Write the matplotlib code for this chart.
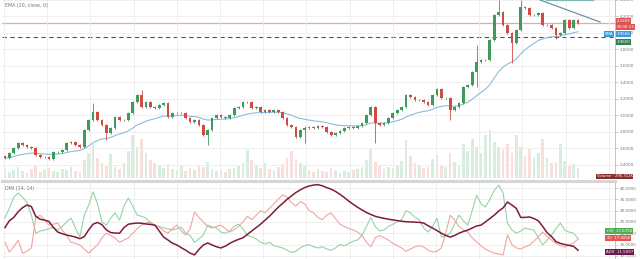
import matplotlib
matplotlib.use("Agg")
import matplotlib.pyplot as plt
import numpy as np
import pandas as pd

# candle closes (open = previous close)
closes = [2.485, 2.546, 2.606, 2.667, 2.642, 2.618, 2.606, 2.521, 2.497, 2.497,
          2.473, 2.558, 2.558, 2.582, 2.667, 2.679, 2.642, 2.618, 2.824, 2.945,
          3.042, 2.945, 2.885, 2.788, 2.849, 2.982, 2.945, 2.945, 3.030, 3.164,
          3.249, 3.103, 3.164, 3.103, 3.091, 3.127, 3.152, 2.982, 3.030, 3.030,
          3.030, 2.970, 2.921, 2.945, 2.885, 2.764, 2.824, 2.970, 3.006, 2.982,
          2.970, 3.006, 3.091, 3.103, 3.164, 3.164, 3.091, 3.103, 3.042, 3.067,
          3.042, 3.067, 3.042, 2.970, 2.885, 2.861, 2.740, 2.824, 2.849, 2.861,
          2.849, 2.873, 2.861, 2.800, 2.764, 2.788, 2.812, 2.849, 2.861, 2.849,
          2.873, 2.909, 3.006, 3.103, 2.909, 2.885, 2.909, 2.970, 3.030, 3.067,
          3.103, 3.249, 3.224, 3.188, 3.188, 3.164, 3.127, 3.249, 3.321, 3.212,
          3.212, 3.067, 3.103, 3.152, 3.345, 3.370, 3.527, 3.649, 3.673, 3.673,
          3.915, 4.218, 4.255, 4.097, 4.000, 3.879, 4.036, 4.315, 4.303, 4.218,
          4.218, 4.242, 4.097, 4.097, 4.061, 3.976, 4.000, 4.158, 4.061, 4.158,
          4.121]
first_open = 2.50
# candles with long wicks: index -> (high, low)
long_wicks = {20: (3.15, 2.93), 23: (2.90, 2.70), 31: (3.31, 3.09), 46: (2.84, 2.64),
              68: (2.87, 2.67), 84: (3.11, 2.67), 101: (3.22, 2.95), 107: (3.85, 3.35),
              112: (4.40, 4.20), 115: (4.01, 3.64), 117: (4.40, 4.02), 125: (4.07, 3.93)}

# volume in K
volumes = [90, 60, 80, 110, 70, 50, 90, 120, 60, 80, 100, 70, 60, 90, 80, 110, 70, 60,
           180, 250, 330, 200, 150, 120, 240,
           110, 90, 150, 260, 420, 300, 380, 250, 180, 150, 120, 100,
           140, 90, 80, 120, 70, 100, 80, 130, 110, 160, 90, 70, 80, 60, 90, 100,
           120, 150, 270, 180, 130, 100, 150, 90,
           80, 110, 140, 200, 260, 190, 150,
           120, 80, 60, 90, 70, 60, 100, 80, 50, 70, 60, 80, 90,
           110, 180, 280, 160, 120, 90, 110, 100, 130, 170,
           370, 220, 150, 120, 100, 110, 190, 230, 130, 110, 250, 160, 120,
           330, 260, 380, 300, 250, 420, 470,
           350, 300, 280, 330, 250, 420, 300, 220, 280, 200, 250,
           380, 200, 150, 160, 330, 170, 120, 140, 100]

adx = [22.5, 25.5, 27, 29.5, 31.3, 32.5, 31.8, 27.5, 26.2, 25.8, 25.2, 22.5, 20.5, 19.8,
       19.2, 18.8, 18.3, 17.6, 18.5, 21.5, 24, 24.8, 23.8, 21.5, 20.3, 20.1, 20, 22.5,
       24, 24.3, 24.5, 24.4, 24.1, 23.9, 23.6, 21, 18.3, 17, 15.6, 14.8, 13.6, 12.5,
       11.2, 10.4, 12.8, 14.8, 15.7, 14.8, 14, 13.5, 14.3, 15.5, 16.5, 17.3, 18, 19.5,
       21, 22.5, 24, 25.8, 27.5, 29.5, 31.5, 33.2, 35, 36.5, 38, 39.2, 40.2, 40.9,
       41.3, 41.5, 41, 40.2, 39.5, 38.5, 37.2, 35.8, 34.2, 32.8, 31.5, 30.3, 29.2,
       28.3, 27.5, 27, 26.6, 26.2, 25.9, 25.6, 25.3, 25.1, 25, 24.9, 24.8, 24.5, 23.3,
       22.3, 21.2, 20, 19, 18.3, 19, 20, 20.8, 21.4, 22.3, 23.2, 23.6, 25, 26.5, 28,
       29.8, 31.2, 33.8, 32.5, 31, 27, 27, 27.2, 26.5, 25.5, 23, 20.2, 18.5, 16.3,
       15.5, 15, 14.6, 14.2, 12.5]
plus_di = [26.7, 31, 36, 37.8, 36, 33.7, 28, 20, 21, 21.4, 22, 22.7, 21.4, 23, 25, 26.7,
           22.3, 18.3, 28, 32.5, 38.3, 33, 25, 23.6, 26.7, 29, 25.8, 32, 35.6, 32, 28,
           27.5, 26.7, 24.5, 23.6, 23, 22.3, 22, 21.4, 22, 22.7, 20, 19, 16, 17.5, 19.2,
           23.6, 22.8, 22.3, 20.5, 20, 21, 23, 24, 22, 19, 18.5, 17.5, 16, 15.2, 16,
           14.5, 14, 13.5, 12.5, 11.5, 12, 13.5, 14.5, 15, 14, 13.5, 14, 13, 12.5, 13.5,
           15, 14.5, 15.5, 16.5, 17, 19, 23, 27, 23, 21, 21.5, 23, 24, 25, 26, 30, 29,
           27, 26, 22.3, 20.5, 23, 26.7, 18.3, 19, 20, 24, 28, 25.5, 23.6, 30, 36.9, 33,
           31.6, 35, 39, 41.3, 37.8, 24.5, 21.5, 20, 21, 22.3, 21.8, 21.4, 18, 14.8, 17,
           19.2, 22, 24.5, 21.4, 20.5, 20, 17.7]
minus_di = [16, 11.7, 14, 16.9, 11.2, 12, 13.5, 27, 27.9, 26, 23.6, 24, 24.5, 21.4, 19,
            16, 15.5, 14.8, 13, 11.2, 13, 14.8, 18, 20, 19, 17.9, 16, 17, 17.9, 20, 22,
            23.6, 24.5, 25, 23.5, 22.7, 21, 20, 22, 23.6, 21, 19.2, 22, 29.4, 27, 25, 23,
            22.3, 23, 23.6, 22, 20.5, 21.5, 23, 25, 27.5, 26, 28, 30, 29, 31, 33, 35, 37,
            36, 33.5, 32, 34, 33, 30, 29, 27, 26, 28, 29, 26.5, 24, 23, 22, 21.5, 20.5,
            19, 16, 14, 18, 19, 18, 17, 15.5, 14.5, 13.5, 12, 13, 14, 14.5, 13.9, 12.5,
            11.7, 12, 13.5, 20, 28, 25.8, 23, 21.5, 20.5, 18, 16.1, 14.5, 13, 12, 11.2,
            10.8, 10.4, 19.2, 15, 13.5, 13, 14, 14.8, 16.5, 18.5, 20.5, 18.5, 17, 15.5,
            14.5, 13.9, 14.8, 15.7, 17.4]

price_ticks = [2.4, 2.6, 2.8, 3.0, 3.2, 3.4, 3.6, 3.8, 4.0, 4.2, 4.4]
dmi_ticks = [10, 15, 20, 25, 30, 35, 40]
dashed_level = 3.95
ema_label_level = 3.985
trend_x = [121.4, 135.0]
trend_y = [4.40, 4.133]

UP = "#3f9a5e"
DOWN = "#cf4b43"
GRID = "#ececec"
TXT = "#777777"

closes = np.array(closes)
opens = np.concatenate(([first_open], closes[:-1]))
highs = np.maximum(opens, closes) + 0.015
lows = np.minimum(opens, closes) - 0.015
for k, (h, l) in long_wicks.items():
    highs[k] = h
    lows[k] = l
idx = np.arange(len(closes))
up = closes >= opens
ema = pd.Series(closes).ewm(span=20, adjust=False).mean()

fig = plt.figure(figsize=(6.4, 2.59), dpi=100)
ax = fig.add_axes([0.003, 0.313, 0.958, 0.687])
axd = fig.add_axes([0.003, 0.0, 0.958, 0.301])
xlim = (-0.68, 138.4)

# volume
axv = ax.twinx()
axv.bar(idx, volumes, width=0.6, color=np.where(up, "#a9d8b5", "#f2b8b3"), alpha=0.45, zorder=1)
axv.set_ylim(0, 1750)
axv.set_yticks([])
axv.set_xlim(*xlim)
for s in axv.spines.values():
    s.set_visible(False)
ax.set_zorder(axv.get_zorder() + 1)
ax.patch.set_visible(False)

# candles
ax.vlines(idx, lows, highs, color=np.where(up, UP, DOWN), linewidth=0.6, zorder=3)
ax.bar(idx, np.abs(closes - opens) + 0.004, bottom=np.minimum(opens, closes), width=0.62,
       color=np.where(up, UP, DOWN), zorder=4)
ax.plot(idx, ema, color="#8dbbd8", linewidth=0.8, zorder=2)
ax.axhline(closes[-1], color="#e8a9a4", linewidth=0.9, zorder=1)
ax.axhline(dashed_level, color="#555555", linewidth=0.8, linestyle=(0, (4, 3)), zorder=1)
ax.plot(trend_x, trend_y, color="#6f939c", linewidth=0.9, zorder=5, clip_on=False)
ax.plot([123, 133.5], [4.395, 4.395], color="#7fb8b0", linewidth=1.6, zorder=5, clip_on=False)

ax.set_xlim(*xlim)
ax.set_ylim(2.243, 4.40)
ax.set_xticks(np.arange(0, 140, 9.8) - 0.2)
ax.set_yticks(price_ticks)
ax.grid(True, color=GRID, linewidth=0.6)
ax.tick_params(axis="x", length=0, labelbottom=False)
ax.yaxis.tick_right()
ax.tick_params(axis="y", length=2, width=0.4, colors="#aaaaaa", labelsize=3.0, labelcolor=TXT, pad=1.5)
ax.set_yticklabels(["%.4f" % t for t in price_ticks])
for name, s in ax.spines.items():
    s.set_visible(name == "right")
ax.spines["right"].set_color("#c4c4c4")
ax.spines["right"].set_linewidth(0.7)
ax.text(0.005, 0.985, "EMA (20, close, 0)", transform=ax.transAxes, fontsize=3.4,
        color=TXT, va="top", ha="left")

yt = ax.get_yaxis_transform()
box = dict(boxstyle="square,pad=0.2", linewidth=0)
fs = 2.9
ax.text(1.003, 4.145, "%.4f" % 4.1609, transform=yt, fontsize=fs, color="white",
        va="center", ha="left", bbox=dict(box, facecolor="#d9534f"), clip_on=False, zorder=10)
ax.text(1.003, 4.075, "00:06:13", transform=yt, fontsize=fs, color="white",
        va="center", ha="left", bbox=dict(box, facecolor="#d9534f"), clip_on=False, zorder=10)
ax.text(0.997, ema_label_level, "EMA", transform=yt, fontsize=fs, color="white",
        va="center", ha="right", bbox=dict(box, facecolor="#3b9ad9"), clip_on=False, zorder=10)
ax.text(1.003, ema_label_level, "%.4f" % 3.9566, transform=yt, fontsize=fs, color="white",
        va="center", ha="left", bbox=dict(box, facecolor="#3b9ad9"), clip_on=False, zorder=10)
ax.text(1.003, 3.89, "%.4f" % (dashed_level + 0.01), transform=yt, fontsize=fs,
        color="white", va="center", ha="left", bbox=dict(box, facecolor="#2e7d4f"),
        clip_on=False, zorder=10)
ax.text(0.970, 2.262, "Volume · 296.312K", transform=yt, fontsize=2.7, color="white",
        va="center", ha="left", bbox=dict(box, facecolor="#8b2a2a"), clip_on=False, zorder=10)

# DMI panel
axd.plot(idx, plus_di, color="#97d3a4", linewidth=0.8)
axd.plot(idx, minus_di, color="#f2a5a2", linewidth=0.8)
axd.plot(idx, adx, color="#7d1c3e", linewidth=1.1)
axd.set_xlim(*xlim)
axd.set_ylim(8.6, 43.1)
axd.set_xticks(np.arange(0, 140, 9.8) - 0.2)
axd.set_yticks(dmi_ticks)
axd.grid(True, color=GRID, linewidth=0.6)
axd.tick_params(axis="x", length=0, labelbottom=False)
axd.yaxis.tick_right()
axd.tick_params(axis="y", length=2, width=0.4, colors="#aaaaaa", labelsize=3.0, labelcolor=TXT, pad=1.5)
axd.set_yticklabels(["%.4f" % t for t in dmi_ticks])
for name, s in axd.spines.items():
    s.set_visible(name in ("right", "top"))
axd.spines["right"].set_color("#c4c4c4")
axd.spines["right"].set_linewidth(0.7)
axd.spines["top"].set_color("#d6d6d6")
axd.spines["top"].set_linewidth(2.2)
axd.text(0.005, 0.93, "DMI (14, 14)", transform=axd.transAxes, fontsize=3.4,
         color=TXT, va="top", ha="left")
dt = axd.get_yaxis_transform()
axd.text(0.985, 20.9, "+DI  17.6756", transform=dt, fontsize=fs, color="white", va="center",
         ha="left", bbox=dict(box, facecolor="#4caf50"), clip_on=False, zorder=10)
axd.text(0.985, 17.9, "-DI  17.4056", transform=dt, fontsize=fs, color="white", va="center",
         ha="left", bbox=dict(box, facecolor="#e0584d"), clip_on=False, zorder=10)
axd.text(0.985, 11.6, "ADX  11.5097", transform=dt, fontsize=fs, color="white", va="center",
         ha="left", bbox=dict(box, facecolor="#6b1a4c"), clip_on=False, zorder=10)

fig.savefig("out.png", dpi=100)
